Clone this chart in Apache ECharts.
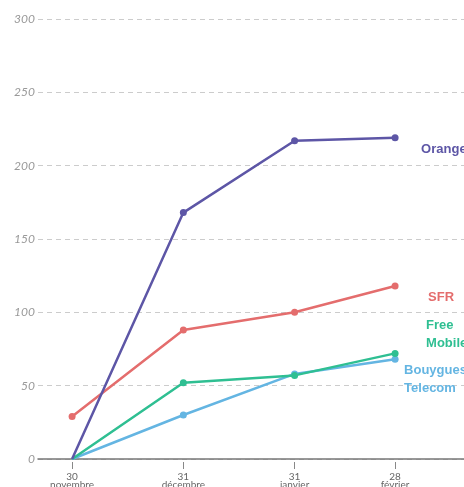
<!DOCTYPE html>
<html>
<head>
<meta charset="utf-8">
<script src="https://cdn.jsdelivr.net/npm/echarts@6/dist/echarts.min.js"></script>
<style>
  html, body { margin: 0; padding: 0; background: #fff; }
  #chart { width: 464px; height: 487px; }
</style>
</head>
<body>
<div id="chart"></div>
<script>
// jours depuis le 30 novembre
var dayOffsets = [0, 31, 62, 90];
var dateLabels = ['30\nnovembre', '31\ndécembre', '31\njanvier', '28\nfévrier'];
var yTicks = [0, 50, 100, 150, 200, 250, 300];

var orange = [0, 168, 217, 219];
var sfr = [29, 88, 100, 118];
var free = [0, 52, 57, 72];
var bouygues = [0, 30, 58, 68];

var chart = echarts.init(document.getElementById('chart'));

function points(values, hideFirst) {
    return values.map(function (v, i) {
        var item = { value: [dayOffsets[i], v] };
        if (hideFirst && i === 0) item.symbol = 'none';
        return item;
    });
}

function makeSeries(name, label, color, values, hideFirst, offset) {
    return {
        name: name,
        type: 'line',
        data: points(values, hideFirst),
        symbol: 'circle',
        symbolSize: 7,
        lineStyle: { color: color, width: 2.5 },
        itemStyle: { color: color },
        endLabel: {
            show: true,
            formatter: label,
            color: color,
            fontFamily: 'Liberation Sans',
            fontWeight: 'bold',
            fontSize: 13,
            lineHeight: 18,
            distance: 0,
            offset: offset,
            align: 'left'
        },
        emphasis: { disabled: true },
        animation: false
    };
}

var option = {
    animation: false,
    grid: { left: 38, right: 0, top: 19, bottom: 28, containLabel: false, outerBoundsMode: 'none' },
    xAxis: [
        {
            type: 'value',
            min: -9.5,
            max: 109.2,
            axisLine: { show: true, lineStyle: { color: '#777', width: 1.5 } },
            axisTick: { show: false },
            axisLabel: { show: false },
            splitLine: { show: false }
        },
        {
            type: 'value',
            min: -9.5,
            max: 109.2,
            position: 'bottom',
            offset: 3,
            axisLine: { show: false },
            axisTick: {
                show: true,
                length: 7,
                lineStyle: { color: '#888' },
                customValues: dayOffsets
            },
            axisLabel: {
                show: true,
                customValues: dayOffsets,
                margin: 11,
                color: '#666',
                fontSize: 10,
                lineHeight: 8,
                fontFamily: 'Lato',
                formatter: function (v) {
                    return dateLabels[dayOffsets.indexOf(v)];
                }
            },
            splitLine: { show: false }
        }
    ],
    yAxis: {
        type: 'value',
        min: 0,
        max: 300,
        interval: 50,
        axisLine: { show: false },
        axisTick: { show: false },
        axisLabel: {
            margin: 3,
            color: '#999',
            fontSize: 12,
            fontStyle: 'italic',
            fontFamily: 'Lato',
            formatter: function (v) { return yTicks.indexOf(v) >= 0 ? String(v) : ''; }
        },
        splitLine: { show: true, lineStyle: { color: '#ccc', type: [5, 4], width: 1 } }
    },
    series: [
        makeSeries('Bouygues Telecom', 'Bouygues\nTelecom', '#64b5e2', bouygues, true, [9, 20]),
        makeSeries('Free Mobile', 'Free\nMobile', '#2fbf92', free, true, [31, -19]),
        makeSeries('SFR', 'SFR', '#e46d6d', sfr, false, [33, 11]),
        makeSeries('Orange', 'Orange', '#5d56a6', orange, true, [26, 12])
    ]
};

chart.setOption(option);
</script>
</body>
</html>
